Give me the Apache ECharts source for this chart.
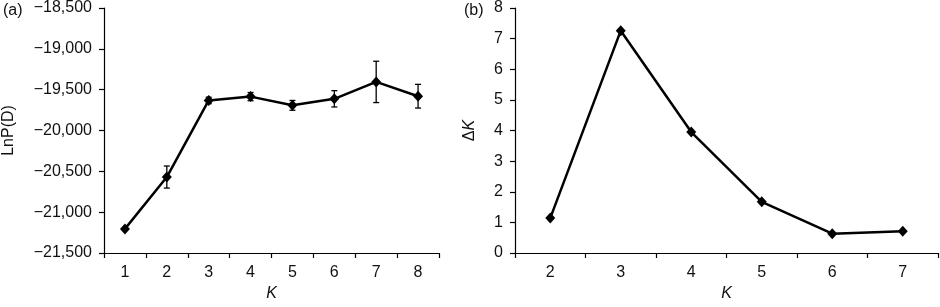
<!DOCTYPE html>
<html>
<head>
<meta charset="utf-8">
<script src="https://cdn.jsdelivr.net/npm/echarts@6/dist/echarts.min.js"></script>
<style>html,body{margin:0;padding:0;background:#fff}#c{width:940px;height:307px}</style>
</head>
<body>
<div id="c"></div>
<script>
// Panel (a)
const kA = ['1','2','3','4','5','6','7','8'];
const lnpMean = [-21205, -20570, -19632, -19585, -19692, -19612, -19405, -19580];
const lnpErr = [0, 135, 40, 50, 60, 100, 253, 145];
// Panel (b)
const kB = ['2','3','4','5','6','7'];
const deltaK = [1.14, 7.26, 3.95, 1.67, 0.63, 0.71];

const FONT = 'Liberation Sans, Arial, sans-serif';
const FS = 16;
const fmt = v => (v < 0 ? '\u2212' : '') + Math.abs(v).toLocaleString('en-US');

const chart = echarts.init(document.getElementById('c'));

function axisBase() {
  return {
    axisLine: {show: true, lineStyle: {color: '#000', width: 1.2}},
    axisTick: {show: true, inside: false, lineStyle: {color: '#000', width: 1.2}, length: 5},
    splitLine: {show: false}
  };
}
const lbl = extra => Object.assign({color: '#111', fontSize: FS, fontFamily: FONT}, extra || {});

chart.setOption({
  animation: false,
  title: [
    {text: '(a)', left: -2, top: -2, textStyle: lbl({fontWeight: 'normal'})},
    {text: '(b)', left: 459, top: -2, textStyle: lbl({fontWeight: 'normal'})}
  ],
  grid: [
    {left: 104, right: 501, top: 7, bottom: 49},
    {left: 515, right: 2, top: 7, bottom: 49}
  ],
  xAxis: [
    Object.assign(axisBase(), {
      type: 'category', gridIndex: 0, data: kA, boundaryGap: true,
      name: 'K', nameLocation: 'middle', nameGap: 33,
      nameTextStyle: lbl({fontStyle: 'italic'}),
      axisLabel: lbl({margin: 12})
    }),
    Object.assign(axisBase(), {
      type: 'category', gridIndex: 1, data: kB, boundaryGap: true,
      name: 'K', nameLocation: 'middle', nameGap: 33,
      nameTextStyle: lbl({fontStyle: 'italic'}),
      axisLabel: lbl({margin: 12})
    })
  ],
  yAxis: [
    Object.assign(axisBase(), {
      type: 'value', gridIndex: 0, min: -21500, max: -18500, interval: 500,
      name: 'LnP(D)', nameLocation: 'middle', nameGap: 87,
      nameTextStyle: lbl(),
      axisLabel: lbl({formatter: fmt, margin: 12})
    }),
    Object.assign(axisBase(), {
      type: 'value', gridIndex: 1, min: 0, max: 8, interval: 1,
      name: '{n|\u0394}{i|K}', nameLocation: 'middle', nameGap: 37,
      nameTextStyle: lbl({rich: {n: lbl(), i: lbl({fontStyle: 'italic'})}}),
      axisLabel: lbl({margin: 12})
    })
  ],
  series: [
    {
      type: 'custom', xAxisIndex: 0, yAxisIndex: 0, z: 1,
      data: lnpMean.map((m, i) => [i, m - lnpErr[i], m + lnpErr[i]]),
      renderItem: function (params, api) {
        const x = api.value(0);
        const lo = api.coord([x, api.value(1)]);
        const hi = api.coord([x, api.value(2)]);
        const w = 3;
        const st = {stroke: '#000', lineWidth: 1.3};
        return {type: 'group', children: [
          {type: 'line', shape: {x1: lo[0], y1: lo[1], x2: hi[0], y2: hi[1]}, style: st},
          {type: 'line', shape: {x1: lo[0] - w, y1: lo[1], x2: lo[0] + w, y2: lo[1]}, style: st},
          {type: 'line', shape: {x1: hi[0] - w, y1: hi[1], x2: hi[0] + w, y2: hi[1]}, style: st}
        ]};
      }
    },
    {
      type: 'line', xAxisIndex: 0, yAxisIndex: 0, z: 3, data: lnpMean,
      symbol: 'diamond', symbolSize: [10, 11],
      lineStyle: {color: '#000', width: 2.5}, itemStyle: {color: '#000'}
    },
    {
      type: 'line', xAxisIndex: 1, yAxisIndex: 1, z: 3, data: deltaK,
      symbol: 'diamond', symbolSize: [10, 11],
      lineStyle: {color: '#000', width: 2.5}, itemStyle: {color: '#000'}
    }
  ]
});
</script>
</body>
</html>
